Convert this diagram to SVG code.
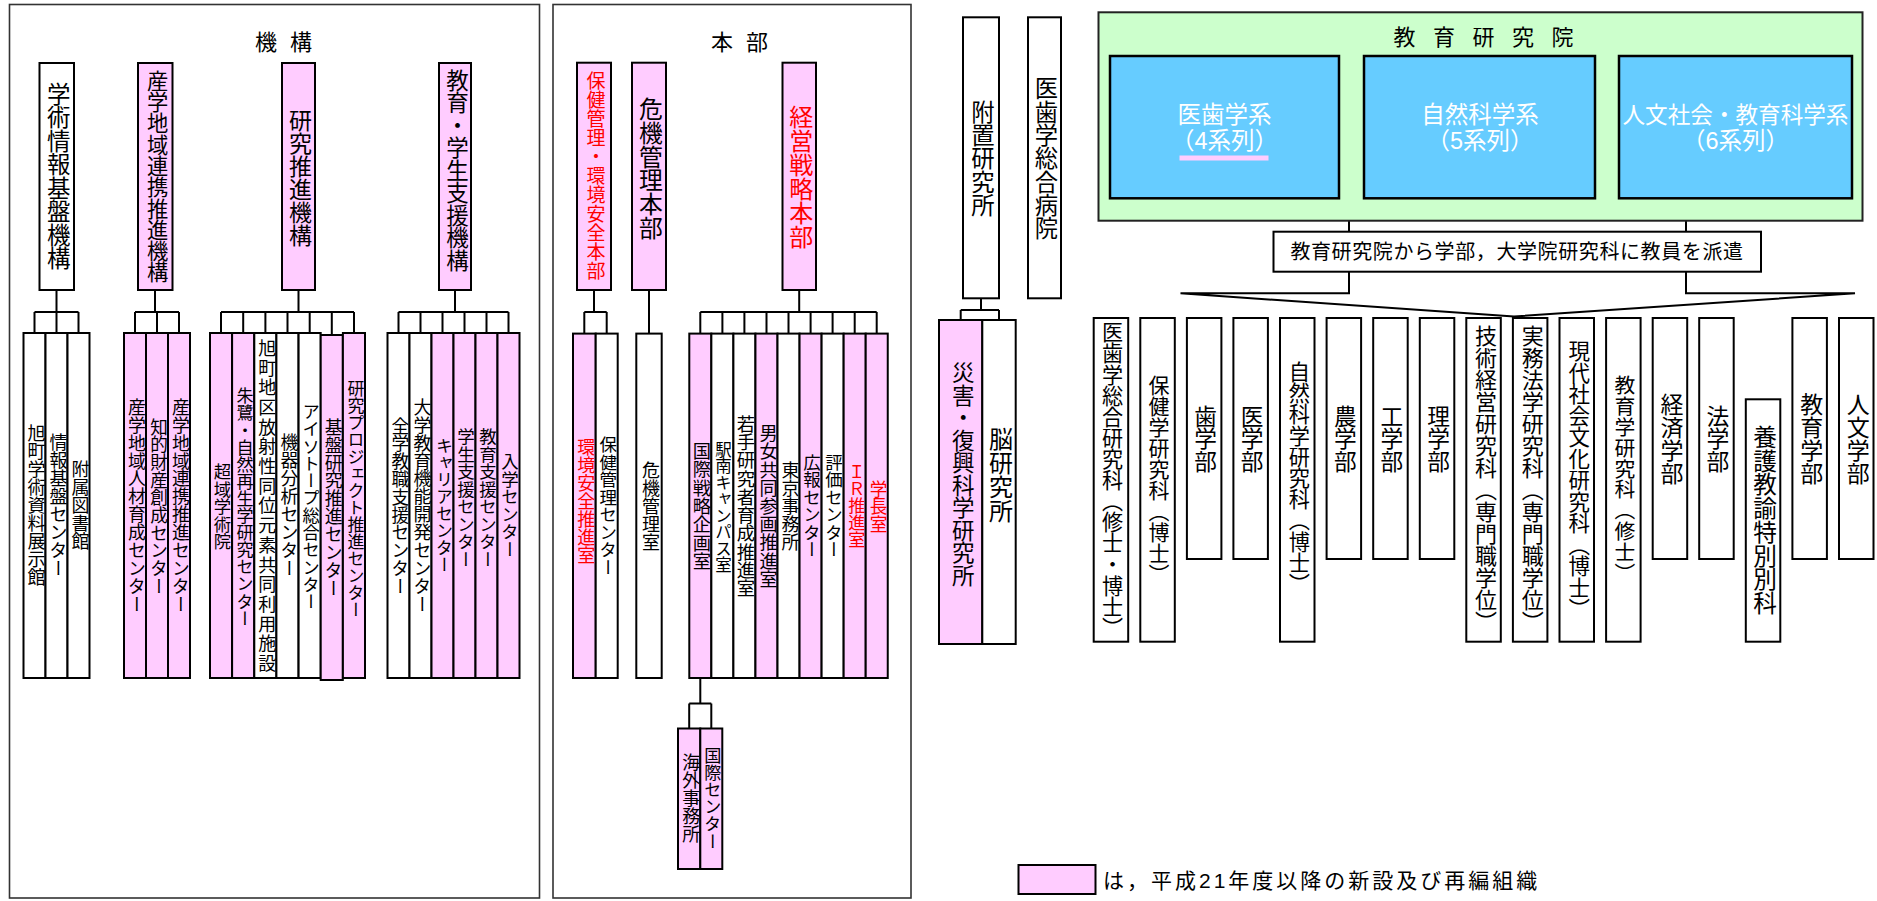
<svg xmlns="http://www.w3.org/2000/svg" width="1877" height="901" viewBox="0 0 1877 901">
<style>
text{font-family:"Liberation Sans","Noto Sans CJK JP",sans-serif;fill:#000}
.v{writing-mode:vertical-rl;text-anchor:middle}
.red{fill:#FF0000}
.wt{fill:#fff}
.nb{stroke:#000;stroke-width:2}
.pk{fill:#FFCCFF}
.wh{fill:#fff}
.panel{fill:#fff;stroke:#333;stroke-width:1.6}
.conn{fill:none;stroke:#000;stroke-width:2}
.f18{font-size:18px}
</style>
<rect width="1877" height="901" fill="#fff"/>

<!-- Panels -->
<g id="panel-kikou">
<rect class="panel" x="9.5" y="4.5" width="530" height="893.5"/>
<text x="255" y="50" font-size="22" letter-spacing="13">機構</text>
</g>
<g id="panel-honbu">
<rect class="panel" x="553" y="4.5" width="358" height="893.5"/>
<text x="711" y="50" font-size="22" letter-spacing="13">本部</text>
</g>

<!-- Connectors -->
<g id="connectors" class="conn">
<path d="M56.5 290V312M34.5 312H78.5M34.5 312V333M56.5 312V333M78.5 312V333"/>
<path d="M155 290V312M135 312H179M135 312V333M157 312V333M179 312V333"/>
<path d="M298.5 290V312M221 312H354M221 312V333M243.2 312V333M265.4 312V333M287.5 312V333M309.7 312V333M331.8 312V335M354 312V333"/>
<path d="M455 290V312M398.5 312H508.5M398.5 312V333M420.5 312V333M442.5 312V333M464.5 312V333M486.5 312V333M508.5 312V333"/>
<path d="M594 290V312M584.3 312H606.7M584.3 312V333.6M606.7 312V333.6"/>
<path d="M649 290V333.6"/>
<path d="M799.2 290V312M700.3 312H876.7M700.3 312V333.6M722.4 312V333.6M744.4 312V333.6M766.5 312V333.6M788.5 312V333.6M810.6 312V333.6M832.6 312V333.6M854.7 312V333.6M876.7 312V333.6"/>
<path d="M700.3 678V703.6M689.2 703.6H711.3M689.2 703.6V728.5M711.3 703.6V728.5"/>
<path d="M981 298.3V310M960.7 310H999M960.7 310V320M999 310V320"/>
<path d="M1349 220.7V231.7M1686 220.7V231.7"/>
<path d="M1349 271.7V293.3H1180.5L1514 316.5L1855 293.3H1686V271.7"/>
</g>

<!-- 機構 top nodes -->
<g id="n-gakujutsu"><rect class="nb wh" x="39.5" y="63" width="34.5" height="227"/><text class="v" x="56.75" y="176" font-size="23.5">学術情報基盤機構</text></g>
<g id="n-sangaku"><rect class="nb pk" x="138" y="63" width="34.5" height="227"/><text class="v" x="155.25" y="176.5" font-size="21.3">産学地域連携推進機構</text></g>
<g id="n-kenkyu"><rect class="nb pk" x="282" y="63" width="33" height="227"/><text class="v" x="298.5" y="177.5" font-size="23">研究推進機構</text></g>
<g id="n-kyoiku"><rect class="nb pk" x="439" y="63" width="32" height="227"/><text class="v" x="455" y="170" font-size="22.5">教育・学生支援機構</text></g>

<!-- 機構 children -->
<g id="c-kyokuchou-shiryou"><rect class="nb wh" x="23.5" y="333" width="22" height="345"/><text class="v f18" x="34.5" y="505">旭町学術資料展示館</text></g>
<g id="c-johokiban"><rect class="nb wh" x="45.5" y="333" width="22" height="345"/><text class="v f18" x="56.5" y="505">情報基盤センター</text></g>
<g id="c-toshokan"><rect class="nb wh" x="67.5" y="333" width="22" height="345"/><text class="v f18" x="78.5" y="505">附属図書館</text></g>

<g id="c-jinzai"><rect class="nb pk" x="124" y="333" width="22" height="345"/><text class="v" x="135" y="505.5" font-size="17.9">産学地域人材育成センター</text></g>
<g id="c-chiteki"><rect class="nb pk" x="146" y="333" width="22" height="345"/><text class="v" x="157" y="506.5" font-size="17.7">知的財産創成センター</text></g>
<g id="c-renkei"><rect class="nb pk" x="168" y="333" width="22" height="345"/><text class="v" x="179" y="505.5" font-size="17.9">産学地域連携推進センター</text></g>

<g id="c-chouiki"><rect class="nb pk" x="210" y="333" width="22.1" height="345"/><text class="v" x="221.05" y="506.5" font-size="17.4">超域学術院</text></g>
<g id="c-toki"><rect class="nb pk" x="232.1" y="333" width="22.1" height="345"/><text class="v" x="243.15" y="507" font-size="17.1">朱鷺・自然再生学研究センター</text></g>
<g id="c-housha"><rect class="nb wh" x="254.3" y="333" width="22.1" height="345"/><text class="v" x="265.35" y="506.5" font-size="18" letter-spacing="1.7">旭町地区放射性同位元素共同利用施設</text></g>
<g id="c-kiki"><rect class="nb wh" x="276.4" y="333" width="22.1" height="345"/><text class="v f18" x="287.45" y="505">機器分析センター</text></g>
<g id="c-isotope"><rect class="nb wh" x="298.6" y="333" width="22.1" height="345"/><text class="v" x="309.65" y="506.5" font-size="17.3">アイソトープ総合センター</text></g>
<g id="c-kiban"><rect class="nb pk" x="320.7" y="335" width="22.1" height="345"/><text class="v" x="331.75" y="507.5" font-size="17.9">基盤研究推進センター</text></g>
<g id="c-project"><rect class="nb pk" x="342.9" y="333" width="22.1" height="345"/><text class="v" x="353.95" y="499" font-size="17">研究プロジェクト推進センター</text></g>

<g id="c-kyoshoku"><rect class="nb wh" x="387.5" y="333" width="22" height="345"/><text class="v" x="398.5" y="506" font-size="17.8">全学教職支援センター</text></g>
<g id="c-kinou"><rect class="nb wh" x="409.5" y="333" width="22" height="345"/><text class="v" x="420.5" y="505.5" font-size="17.9">大学教育機能開発センター</text></g>
<g id="c-career"><rect class="nb pk" x="431.5" y="333" width="22" height="345"/><text class="v" x="442.5" y="505" font-size="17">キャリアセンター</text></g>
<g id="c-gakusei"><rect class="nb pk" x="453.5" y="333" width="22" height="345"/><text class="v" x="464.5" y="498" font-size="17.5">学生支援センター</text></g>
<g id="c-kyoikushien"><rect class="nb pk" x="475.5" y="333" width="22" height="345"/><text class="v" x="486.5" y="498" font-size="17.5">教育支援センター</text></g>
<g id="c-nyugaku"><rect class="nb pk" x="497.5" y="333" width="22" height="345"/><text class="v" x="508.5" y="505.5" font-size="17.5">入学センター</text></g>

<!-- 本部 top nodes -->
<g id="n-hoken"><rect class="nb pk" x="577" y="62.7" width="34" height="227.3"/><text class="v red" x="594" y="176" font-size="19">保健管理・環境安全本部</text></g>
<g id="n-kiki"><rect class="nb pk" x="632" y="62.7" width="34" height="227.3"/><text class="v" x="649" y="168.5" font-size="23.8">危機管理本部</text></g>
<g id="n-keiei"><rect class="nb pk" x="782.5" y="62.7" width="33.5" height="227.3"/><text class="v red" x="799.25" y="176.5" font-size="24">経営戦略本部</text></g>

<!-- 本部 children -->
<g id="c-kankyo"><rect class="nb pk" x="573" y="333.6" width="22.7" height="344.4"/><text class="v red f18" x="584.35" y="501">環境安全推進室</text></g>
<g id="c-hokenkanri"><rect class="nb wh" x="595.7" y="333.6" width="22" height="344.4"/><text class="v" x="606.7" y="506" font-size="17.5">保健管理センター</text></g>
<g id="c-kikikanri"><rect class="nb wh" x="636.3" y="333.6" width="25.4" height="344.4"/><text class="v f18" x="649" y="506">危機管理室</text></g>

<g id="c-kokusaisenryaku"><rect class="nb pk" x="689.3" y="333.6" width="22.05" height="344.4"/><text class="v" x="700.3" y="506" font-size="18.3">国際戦略企画室</text></g>
<g id="c-ekinan"><rect class="nb wh" x="711.35" y="333.6" width="22.05" height="344.4"/><text class="v" x="722.4" y="507" font-size="16.5">駅南キャンパス室</text></g>
<g id="c-wakate"><rect class="nb wh" x="733.4" y="333.6" width="22.05" height="344.4"/><text class="v" x="744.4" y="506" font-size="18.3">若手研究者育成推進室</text></g>
<g id="c-danjo"><rect class="nb pk" x="755.45" y="333.6" width="22.05" height="344.4"/><text class="v" x="766.5" y="506" font-size="18.2">男女共同参画推進室</text></g>
<g id="c-tokyo"><rect class="nb wh" x="777.5" y="333.6" width="22.05" height="344.4"/><text class="v f18" x="788.5" y="506">東京事務所</text></g>
<g id="c-kouhou"><rect class="nb pk" x="799.55" y="333.6" width="22.05" height="344.4"/><text class="v" x="810.6" y="506" font-size="17.5">広報センター</text></g>
<g id="c-hyouka"><rect class="nb wh" x="821.6" y="333.6" width="22.05" height="344.4"/><text class="v" x="832.6" y="506" font-size="17.5">評価センター</text></g>
<g id="c-ir"><rect class="nb pk" x="843.65" y="333.6" width="22.05" height="344.4"/><text class="v red" x="854.7" y="505.5" font-size="17">ＩＲ推進室</text></g>
<g id="c-gakuchou"><rect class="nb pk" x="865.7" y="333.6" width="22.05" height="344.4"/><text class="v red" x="876.7" y="506.5" font-size="17.7">学長室</text></g>

<g id="c-kaigai"><rect class="nb pk" x="678" y="728.5" width="22.3" height="140.5"/><text class="v f18" x="689.15" y="798">海外事務所</text></g>
<g id="c-kokusaicenter"><rect class="nb pk" x="700.3" y="728.5" width="22" height="140.5"/><text class="v" x="711.3" y="798" font-size="17.2">国際センター</text></g>

<!-- 附置研究所 / 病院 -->
<g id="n-fuchi"><rect class="nb wh" x="963" y="17.3" width="36" height="281"/><text class="v" x="981" y="158.5" font-size="23.4">附置研究所</text></g>
<g id="n-byouin"><rect class="nb wh" x="1028" y="17.3" width="33" height="281"/><text class="v" x="1044.5" y="158.5" font-size="23.3">医歯学総合病院</text></g>
<g id="c-saigai"><rect class="nb pk" x="939" y="320" width="43.3" height="324"/><text class="v" x="960.7" y="474" font-size="22.5">災害・復興科学研究所</text></g>
<g id="c-nou"><rect class="nb wh" x="982.3" y="320" width="33.4" height="324"/><text class="v" x="999" y="475" font-size="24">脳研究所</text></g>

<!-- 教育研究院 -->
<g id="n-kyoikukenkyuin">
<rect x="1098.5" y="12.3" width="764" height="208.4" fill="#CCFFCC" stroke="#222" stroke-width="2"/>
<text x="1393.5" y="45" font-size="22" letter-spacing="17.5">教育研究院</text>
</g>
<g id="n-ishigaku">
<rect x="1110" y="56" width="229" height="142.3" fill="#66CCFF" stroke="#000" stroke-width="2.5"/>
<text class="wt" x="1224.5" y="123" font-size="23.5" text-anchor="middle">医歯学系</text>
<text class="wt" x="1224.5" y="149" font-size="23.5" text-anchor="middle">（4系列）</text>
<rect x="1179.5" y="155.5" width="89" height="5" fill="#FFCCFF"/>
</g>
<g id="n-shizen">
<rect x="1364" y="56" width="231" height="142.3" fill="#66CCFF" stroke="#000" stroke-width="2.5"/>
<text class="wt" x="1480" y="123" font-size="23.5" text-anchor="middle">自然科学系</text>
<text class="wt" x="1480" y="149" font-size="23.5" text-anchor="middle">（5系列）</text>
</g>
<g id="n-jinbun">
<rect x="1619" y="56" width="233" height="142.3" fill="#66CCFF" stroke="#000" stroke-width="2.5"/>
<text class="wt" x="1735.5" y="123" font-size="22.6" text-anchor="middle">人文社会・教育科学系</text>
<text class="wt" x="1735.5" y="149" font-size="23.5" text-anchor="middle">（6系列）</text>
</g>
<g id="n-haken">
<rect class="nb wh" x="1273.5" y="231.7" width="487.5" height="40"/>
<text x="1517" y="259" font-size="20" text-anchor="middle" letter-spacing="0.6">教育研究院から学部，大学院研究科に教員を派遣</text>
</g>

<!-- 学部・研究科 -->
<g id="f-01"><rect class="nb wh" x="1093.7" y="318" width="34.5" height="323.7"/><text class="v" x="1110.95" y="480" font-size="21.1">医歯学総合研究科（修士・博士）</text></g>
<g id="f-02"><rect class="nb wh" x="1140.3" y="318" width="34.5" height="323.7"/><text class="v" x="1157.55" y="480" font-size="21">保健学研究科（博士）</text></g>
<g id="f-03"><rect class="nb wh" x="1186.9" y="318" width="34.5" height="241"/><text class="v" x="1204.15" y="438.7" font-size="22.7">歯学部</text></g>
<g id="f-04"><rect class="nb wh" x="1233.4" y="318" width="34.5" height="241"/><text class="v" x="1250.65" y="438.7" font-size="22.7">医学部</text></g>
<g id="f-05"><rect class="nb wh" x="1280" y="318" width="34.5" height="323.7"/><text class="v" x="1297.25" y="478" font-size="21.2">自然科学研究科（博士）</text></g>
<g id="f-06"><rect class="nb wh" x="1326.6" y="318" width="34.5" height="241"/><text class="v" x="1343.85" y="438.7" font-size="22.7">農学部</text></g>
<g id="f-07"><rect class="nb wh" x="1373.2" y="318" width="34.5" height="241"/><text class="v" x="1390.45" y="438.7" font-size="22.7">工学部</text></g>
<g id="f-08"><rect class="nb wh" x="1419.8" y="318" width="34.5" height="241"/><text class="v" x="1437.05" y="438.7" font-size="22.7">理学部</text></g>
<g id="f-09"><rect class="nb wh" x="1466.3" y="318" width="34.5" height="323.7"/><text class="v" x="1483.55" y="479" font-size="22">技術経営研究科（専門職学位）</text></g>
<g id="f-10"><rect class="nb wh" x="1512.9" y="318" width="34.5" height="323.7"/><text class="v" x="1530.15" y="479" font-size="22">実務法学研究科（専門職学位）</text></g>
<g id="f-11"><rect class="nb wh" x="1559.5" y="318" width="34.5" height="323.7"/><text class="v" x="1576.75" y="480" font-size="21.5">現代社会文化研究科（博士）</text></g>
<g id="f-12"><rect class="nb wh" x="1606.1" y="318" width="34.5" height="323.7"/><text class="v" x="1623.35" y="479" font-size="20.8">教育学研究科（修士）</text></g>
<g id="f-13"><rect class="nb wh" x="1652.7" y="318" width="34.5" height="241"/><text class="v" x="1669.95" y="439" font-size="23">経済学部</text></g>
<g id="f-14"><rect class="nb wh" x="1699.2" y="318" width="34.5" height="241"/><text class="v" x="1716.45" y="438.7" font-size="22.8">法学部</text></g>
<g id="f-15"><rect class="nb wh" x="1745.8" y="399.3" width="34.5" height="242.4"/><text class="v" x="1763.05" y="520" font-size="23.7">養護教諭特別別科</text></g>
<g id="f-16"><rect class="nb wh" x="1792.4" y="318" width="34.5" height="241"/><text class="v" x="1809.65" y="439" font-size="23">教育学部</text></g>
<g id="f-17"><rect class="nb wh" x="1839" y="318" width="34.5" height="241"/><text class="v" x="1856.25" y="439" font-size="23">人文学部</text></g>

<!-- Legend -->
<g id="legend">
<rect class="nb pk" x="1018.5" y="865" width="77" height="29"/>
<text x="1103" y="887.5" font-size="21" letter-spacing="3">は，平成21年度以降の新設及び再編組織</text>
</g>
</svg>
